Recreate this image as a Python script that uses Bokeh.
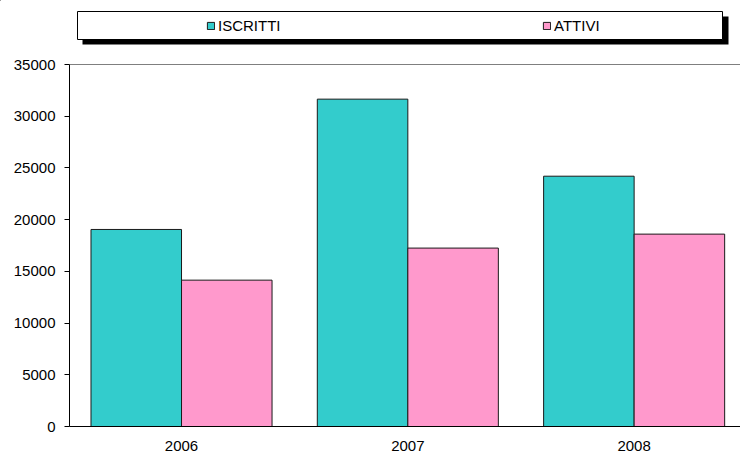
from bokeh.plotting import figure
from bokeh.models import (ColumnDataSource, Range1d, FixedTicker, Span, Legend, LegendItem)
from bokeh.layouts import column
from bokeh.transform import dodge
from bokeh.embed import file_html
from bokeh.resources import INLINE

# ---- data ----
years = ["2006", "2007", "2008"]
iscritti = [19050, 31650, 24200]
attivi = [14150, 17250, 18600]
y_ticks = [0, 5000, 10000, 15000, 20000, 25000, 30000, 35000]
series_names = ["ISCRITTI", "ATTIVI"]
series_colors = ["#33CCCC", "#FF99CC"]

FONT = "Liberation Sans"

src = ColumnDataSource(dict(x=list(range(len(years))), iscritti=iscritti, attivi=attivi))

# ---- main chart ----
p = figure(width=740, height=401,
           x_range=Range1d(-0.495, 2.47), y_range=Range1d(0, 35000),
           output_backend="svg", toolbar_location=None,
           min_border_left=69, min_border_right=0, min_border_top=8, min_border_bottom=31)
p.frame_align = False
p.outline_line_color = None
p.background_fill_color = "white"
p.border_fill_color = "white"
p.xgrid.visible = False
p.ygrid.visible = False

bar_w = 0.4
p.vbar(x=dodge("x", -bar_w / 2), top="iscritti", width=bar_w, source=src,
       fill_color=series_colors[0], line_color="#1a1a1a", line_width=1)
p.vbar(x=dodge("x", bar_w / 2), top="attivi", width=bar_w, source=src,
       fill_color=series_colors[1], line_color="#1a1a1a", line_width=1)

p.add_layout(Span(location=35000, dimension="width", line_color="black", line_width=1))

xa = p.xaxis[0]
xa.ticker = FixedTicker(ticks=list(range(len(years))))
xa.major_label_overrides = {i: y for i, y in enumerate(years)}
xa.major_tick_out = 0
xa.major_tick_in = 0
xa.minor_tick_line_color = None
xa.axis_line_color = "black"
xa.major_label_standoff = 14
xa.major_label_text_font = FONT
xa.major_label_text_font_size = "15px"
xa.major_label_text_color = "black"

ya = p.yaxis[0]
ya.ticker = FixedTicker(ticks=y_ticks)
ya.major_tick_out = 5
ya.major_tick_in = 0
ya.major_tick_line_color = "black"
ya.minor_tick_line_color = None
ya.axis_line_color = "black"
ya.major_label_standoff = 9
ya.major_label_text_font = FONT
ya.major_label_text_font_size = "15px"
ya.major_label_text_color = "black"

# ---- legend strip ----
lg = figure(width=740, height=56, x_range=Range1d(0, 740), y_range=Range1d(56, 0),
            x_axis_type=None, y_axis_type=None, output_backend="svg",
            toolbar_location=None, min_border=0)
lg.frame_align = False
lg.outline_line_color = None
lg.background_fill_color = "white"
lg.border_fill_color = "white"
# shadow and box
lg.quad(left=[82], right=[728], top=[16], bottom=[44], fill_color="black", line_color=None)
lg.quad(left=[77], right=[722], top=[11], bottom=[39], fill_color="white",
        line_color="black", line_width=1)

legend_x = [206, 542]
for name, color, lx in zip(series_names, series_colors, legend_x):
    # off-range placeholder renderer, only used to draw the legend swatch
    r = lg.vbar(x=[-100], top=[0], width=1, fill_color=color, line_color="#1a1a1a")
    leg = Legend(items=[LegendItem(label=name, renderers=[r])], location=(lx, 22),
                 border_line_color=None, background_fill_alpha=0, padding=0, margin=0,
                 glyph_width=9, glyph_height=9, label_standoff=3, label_height=9,
                 label_text_font=FONT, label_text_font_size="15px", label_text_color="black")
    lg.add_layout(leg)

layout = column(lg, p)
open("out.html", "w").write(file_html(layout, INLINE))
